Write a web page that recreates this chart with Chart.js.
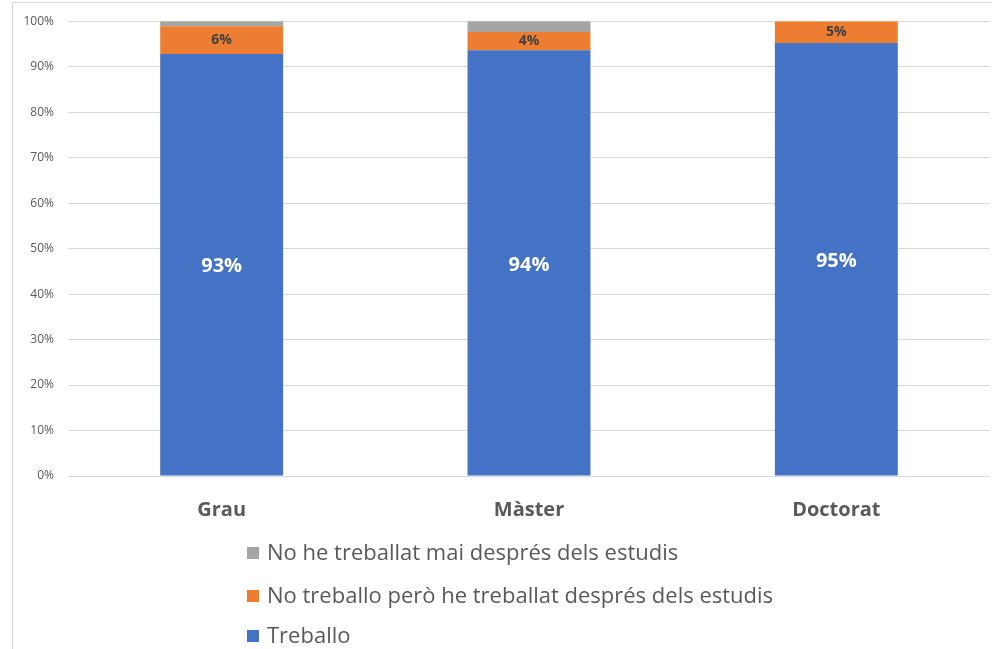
<!DOCTYPE html>
<html>
<head>
<meta charset="utf-8">
<script src="https://cdn.jsdelivr.net/npm/chart.js@4"></script>
<style>
    html, body { margin: 0; padding: 0; background: #fff; }
    #wrap { position: relative; width: 992px; height: 649px; overflow: hidden; }
    #frame { position: absolute; left: 12px; top: 2px; width: 1000px; height: 700px;
             border-left: 1px solid #d9d9d9; border-top: 1px solid #d9d9d9; }
    canvas { position: absolute; left: 0; top: 0; }
</style>
</head>
<body>
<div id="wrap">
    <div id="frame"></div>
    <canvas id="chart" width="992" height="649"></canvas>
</div>
<script>
// Categories and series (percent of each group)
const categories = ['Grau', 'Màster', 'Doctorat'];
const treballo = [92.8, 93.6, 95.2];
const noTreballoPero = [6.1, 4.0, 4.8];
const maiTreballat = [1.1, 2.4, 0];
const yTicks = [0, 10, 20, 30, 40, 50, 60, 70, 80, 90, 100];

const textGray = '#595959';
const fontFamily = '"Open Sans", sans-serif';

// Value labels inside the bars
const barLabels = {
    id: 'barLabels',
    afterDatasetsDraw(chart) {
        const ctx = chart.ctx;
        chart.data.datasets.forEach((ds, i) => {
            if (!ds.labelStyle) return;
            const meta = chart.getDatasetMeta(i);
            meta.data.forEach((bar, j) => {
                const v = ds.data[j];
                if (!v) return;
                ctx.save();
                ctx.font = ds.labelStyle.font;
                ctx.fillStyle = ds.labelStyle.color;
                ctx.textAlign = 'center';
                ctx.textBaseline = 'middle';
                ctx.fillText(Math.round(v) + '%', bar.x, (bar.y + bar.base) / 2 + ds.labelStyle.dy);
                ctx.restore();
            });
        });
    }
};

// Vertical legend, left aligned, last dataset first
const sideLegend = {
    id: 'sideLegend',
    afterDraw(chart) {
        const ctx = chart.ctx;
        const rows = [553, 596, 636];
        const items = chart.data.datasets.slice().reverse();
        ctx.save();
        ctx.font = '22px ' + fontFamily;
        ctx.textBaseline = 'middle';
        items.forEach((ds, k) => {
            const y = rows[k];
            ctx.fillStyle = ds.backgroundColor;
            ctx.fillRect(247, y - 6, 12, 12);
            ctx.fillStyle = textGray;
            ctx.fillText(ds.label, 267, y + 1);
        });
        ctx.restore();
    }
};

new Chart(document.getElementById('chart'), {
    type: 'bar',
    data: {
        labels: categories,
        datasets: [
            {
                label: 'Treballo',
                data: treballo,
                backgroundColor: '#4472C4',
                labelStyle: { font: 'bold 20px ' + fontFamily, color: '#ffffff', dy: 2 }
            },
            {
                label: 'No treballo però he treballat després dels estudis',
                data: noTreballoPero,
                backgroundColor: '#ED7D31',
                labelStyle: { font: 'bold 14px ' + fontFamily, color: '#404040', dy: 0 }
            },
            {
                label: 'No he treballat mai després dels estudis',
                data: maiTreballat,
                backgroundColor: '#A5A5A5'
            }
        ]
    },
    options: {
        responsive: false,
        animation: false,
        layout: { padding: { left: 12, right: 2, top: 19, bottom: 0 } },
        datasets: {
            bar: { barPercentage: 0.4, categoryPercentage: 1, borderWidth: 0 }
        },
        plugins: {
            legend: { display: false },
            tooltip: { enabled: false }
        },
        scales: {
            x: {
                stacked: true,
                grid: { display: false },
                border: { display: false },
                ticks: {
                    padding: 14,
                    color: textGray,
                    font: { size: 20, weight: 'bold', family: fontFamily }
                },
                afterFit: s => { s.height = 173; }
            },
            y: {
                stacked: true,
                min: 0,
                max: 100,
                afterBuildTicks: s => { s.ticks = yTicks.map(v => ({ value: v })); },
                grid: { color: '#d9d9d9', drawTicks: false },
                border: { display: false },
                ticks: {
                    padding: 14,
                    color: textGray,
                    font: { size: 12, family: fontFamily },
                    callback: v => v + '%'
                },
                afterFit: s => { s.width = 56; }
            }
        }
    },
    plugins: [barLabels, sideLegend]
});
</script>
</body>
</html>
